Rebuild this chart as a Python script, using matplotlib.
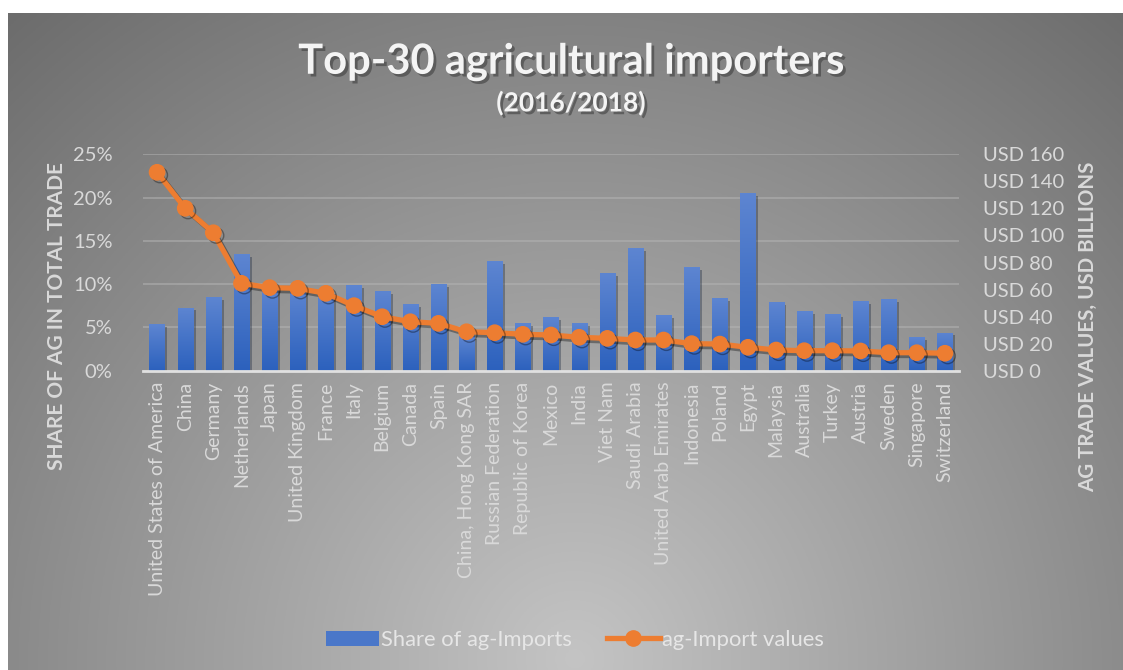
import matplotlib
matplotlib.use('Agg')
import matplotlib.pyplot as plt
import matplotlib.patheffects as pe
from matplotlib.patches import Patch
from matplotlib.lines import Line2D
from matplotlib.colors import LinearSegmentedColormap
import numpy as np

countries = [
    'United States of America', 'China', 'Germany', 'Netherlands', 'Japan',
    'United Kingdom', 'France', 'Italy', 'Belgium', 'Canada', 'Spain',
    'China, Hong Kong SAR', 'Russian Federation', 'Republic of Korea', 'Mexico',
    'India', 'Viet Nam', 'Saudi Arabia', 'United Arab Emirates', 'Indonesia',
    'Poland', 'Egypt', 'Malaysia', 'Australia', 'Turkey', 'Austria', 'Sweden',
    'Singapore', 'Switzerland',
]
# share of ag imports in total trade (%)
share = [5.4, 7.3, 8.5, 13.5, 9.8, 9.7, 9.2, 9.9, 9.2, 7.7, 10.0,
         4.0, 12.7, 5.5, 6.2, 5.5, 11.3, 14.2, 6.4, 12.0, 8.4, 20.5,
         7.9, 6.9, 6.5, 8.0, 8.3, 3.9, 4.4]
# ag import values (USD billions)
values = [146.7, 120.1, 102.0, 64.6, 61.4, 60.9, 57.2, 48.1, 39.9, 36.2, 35.0,
          28.8, 28.1, 26.9, 26.4, 24.7, 23.9, 22.7, 22.7, 20.0, 19.7, 17.3,
          15.3, 14.8, 14.8, 14.6, 13.3, 13.3, 12.9]

W, H = 1123, 670
txt = '#d9d9d9'
blue = '#4a77c9'
orange = '#ED7D31'
bar_cmap = LinearSegmentedColormap.from_list('bars', ['#2c61bd', '#5d85d1'])

plt.rcParams['font.family'] = ['Lato', 'DejaVu Sans']

fig = plt.figure(figsize=(W / 100, H / 100), dpi=100, facecolor='white')

# radial grey background, lighter at the bottom centre
bg = fig.add_axes([8 / W, 0, 1 - 8 / W, 1 - 13 / H], zorder=-10)
gx, gy = np.meshgrid(np.linspace(8, W, 400), np.linspace(13, H, 260))
d = np.hypot(gx - 575, gy - 660) / 900
g = np.clip(196 - 92 * d, 100, 200) / 255
bg.imshow(np.dstack([g, g, g]), aspect='auto', extent=[0, 1, 0, 1])
bg.axis('off')

ax = fig.add_axes([143 / W, 1 - 370.7 / H, (959 - 143) / W, (370.7 - 154.3) / H])
ax.patch.set_alpha(0)
x = np.arange(len(countries))

bars = ax.bar(x, share, width=0.54, color=blue, zorder=2,
              path_effects=[pe.SimplePatchShadow(offset=(2, -2), alpha=0.35), pe.Normal()])
# vertical gradient fill inside each bar
grad = np.linspace(0, 1, 100).reshape(-1, 1)
for b in bars:
    x0, y0 = b.get_x(), b.get_y()
    im = ax.imshow(grad, cmap=bar_cmap, origin='lower', aspect='auto', zorder=2.1,
                   extent=[x0, x0 + b.get_width(), y0, y0 + b.get_height()])
    im.set_clip_path(b)

ax.set_xlim(-0.5, len(countries) - 0.5)
ax.set_ylim(0, 25)
ax.set_yticks(range(0, 26, 5))
ax.set_yticklabels([f'{v}%' for v in range(0, 26, 5)])
ax.yaxis.grid(True, color='#b4b4b4', linewidth=1.2, alpha=0.6, zorder=0)
ax.set_axisbelow(True)
ax.set_xticks(x)
ax.set_xticklabels(countries, rotation=90, fontsize=14, color=txt)
ax.tick_params(axis='y', length=0, pad=22, labelsize=14.5, labelcolor=txt)
ax.tick_params(axis='x', length=0, pad=8)
for s in ['top', 'left', 'right']:
    ax.spines[s].set_visible(False)
ax.spines['bottom'].set_color('#e0e0e0')
ax.spines['bottom'].set_linewidth(2)
ax.spines['bottom'].set_zorder(2.5)

ax2 = ax.twinx()
ax2.plot(x, values, color=orange, linewidth=3.8, marker='o', markersize=11,
         zorder=3, solid_capstyle='round',
         path_effects=[pe.SimpleLineShadow(offset=(2, -2), alpha=0.35), pe.Normal()])
ax2.set_ylim(0, 160)
ax2.set_yticks(range(0, 161, 20))
ax2.set_yticklabels([f'USD {v}' for v in range(0, 161, 20)])
ax2.tick_params(axis='y', length=0, pad=17, labelsize=14.5, labelcolor=txt)
for s in ax2.spines.values():
    s.set_visible(False)

shadow = [pe.withSimplePatchShadow(offset=(2, -2), shadow_rgbFace='#404040', alpha=0.6)]
fig.text(571 / W, 1 - 62 / H, 'Top-30 agricultural importers', ha='center', va='center',
         fontsize=30, fontweight='bold', color='#f4f4f4', path_effects=shadow)
fig.text(571 / W, 1 - 103 / H, '(2016/2018)', ha='center', va='center',
         fontsize=19, fontweight='bold', color='#f4f4f4', path_effects=shadow)

fig.text(57 / W, 1 - 316 / H, 'SHARE OF AG IN TOTAL TRADE', rotation=90,
         ha='center', va='center', fontsize=15, fontweight='bold', color=txt)
fig.text(1088 / W, 1 - 327 / H, 'AG TRADE VALUES, USD BILLIONS', rotation=90,
         ha='center', va='center', fontsize=14.8, fontweight='bold', color=txt)

handles = [Patch(facecolor=blue, edgecolor='none'),
           Line2D([], [], color=orange, linewidth=3.8, marker='o', markersize=11)]
fig.legend(handles, ['Share of ag-Imports', 'ag-Import values'], loc='center',
           bbox_to_anchor=(575 / W, 1 - 640 / H), ncol=2, frameon=False,
           fontsize=15.8, labelcolor='#e6e6e6', handlelength=2.4, handletextpad=0.1,
           columnspacing=1.6)

fig.savefig('out.png', dpi=100, facecolor='white')
